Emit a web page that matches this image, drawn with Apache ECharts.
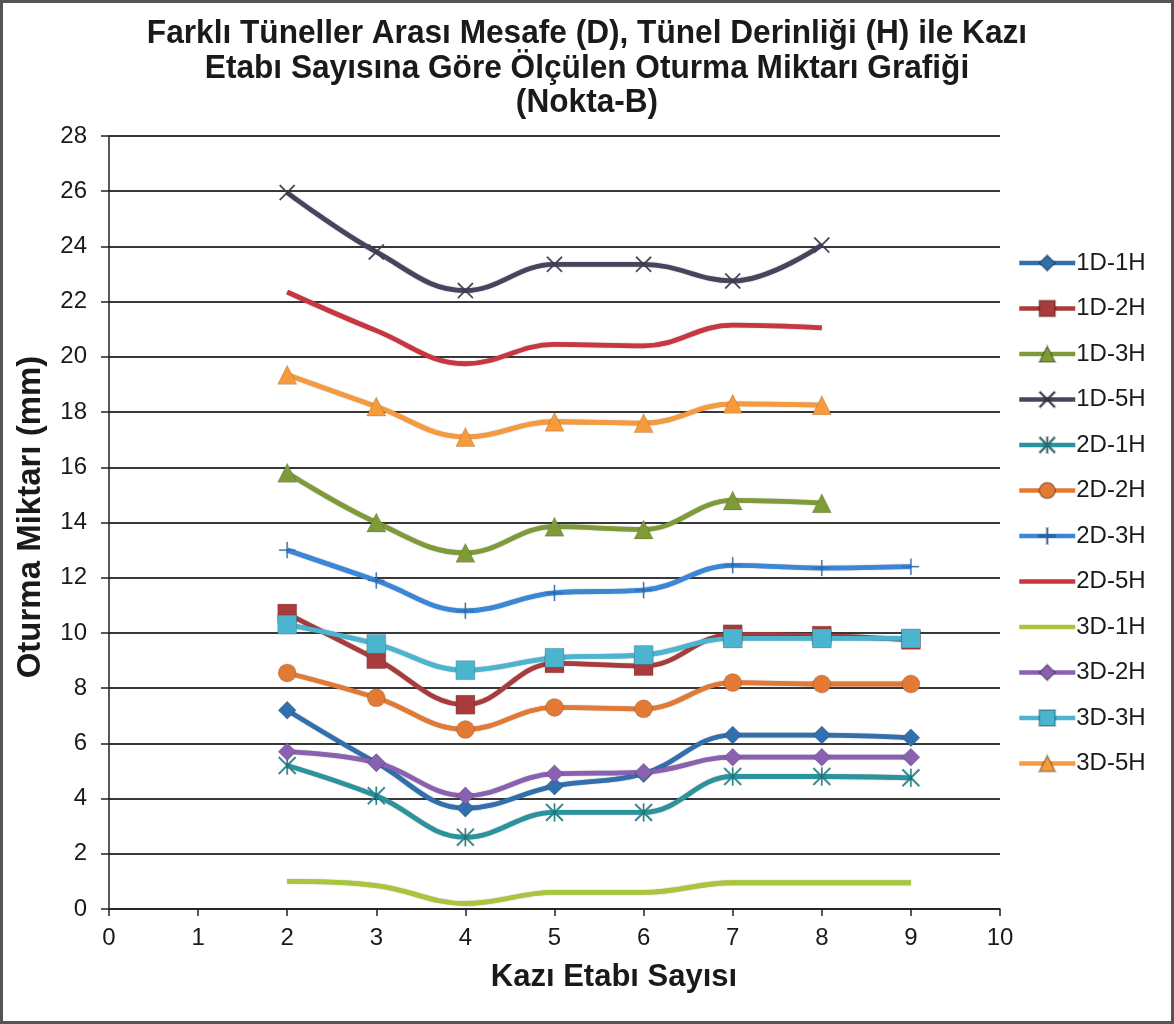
<!DOCTYPE html>
<html>
<head>
<meta charset="utf-8">
<title>Oturma Miktarı Grafiği (Nokta-B)</title>
<script src="https://cdn.jsdelivr.net/npm/echarts@6/dist/echarts.min.js"></script>
<style>
  html, body { margin: 0; padding: 0; background: #ffffff; }
  #chart { width: 1174px; height: 1024px; }
</style>
</head>
<body>
<div id="chart"></div>
<script>
// Excavation stage counts (x values)
const stagesLong = [2, 3, 4, 5, 6, 7, 8, 9];
const stagesShort = [2, 3, 4, 5, 6, 7, 8];

// Measured settlement values (mm)
const d1h1 = [7.2, 5.3, 3.65, 4.45, 4.9, 6.3, 6.3, 6.2];
const d1h2 = [10.7, 9.05, 7.4, 8.9, 8.8, 9.95, 9.9, 9.75];
const d1h3 = [15.8, 14.0, 12.9, 13.85, 13.75, 14.8, 14.7];
const d1h5 = [25.95, 23.8, 22.4, 23.35, 23.35, 22.75, 24.05];
const d2h1 = [5.2, 4.1, 2.6, 3.5, 3.5, 4.8, 4.8, 4.75];
const d2h2 = [8.55, 7.65, 6.5, 7.3, 7.25, 8.2, 8.15, 8.15];
const d2h3 = [13.0, 11.9, 10.8, 11.45, 11.55, 12.45, 12.35, 12.4];
const d2h5 = [22.35, 20.95, 19.75, 20.45, 20.4, 21.15, 21.05];
const d3h1 = [1.0, 0.85, 0.2, 0.6, 0.6, 0.95, 0.95, 0.95];
const d3h2 = [5.7, 5.3, 4.1, 4.9, 4.95, 5.5, 5.5, 5.5];
const d3h3 = [10.3, 9.6, 8.65, 9.1, 9.2, 9.8, 9.8, 9.8];
const d3h5 = [19.35, 18.2, 17.1, 17.65, 17.6, 18.3, 18.25];

const seriesNames = ['1D-1H', '1D-2H', '1D-3H', '1D-5H', '2D-1H', '2D-2H',
                     '2D-3H', '2D-5H', '3D-1H', '3D-2H', '3D-3H', '3D-5H'];
// Series drawn as plain lines, without point markers
const plainLines = ['2D-5H', '3D-1H'];

const titleLines = [
  'Farklı Tüneller Arası Mesafe (D), Tünel Derinliği (H) ile Kazı',
  'Etabı Sayısına Göre Ölçülen Oturma Miktarı Grafiği',
  '(Nokta-B)'
];

// Axis ticks: [min, max, interval]
const xTicks = [0, 10, 1];
const yTicks = [0, 28, 2];

// Stroke-like marker shapes
const crossPath = 'path://M0,1.4 L1.4,0 L20,18.6 L18.6,20 Z M18.6,0 L20,1.4 L1.4,20 L0,18.6 Z';
const starPath = crossPath.replace('path://', 'path://M9.2,0 L10.8,0 L10.8,20 L9.2,20 Z ');
const plusPath = 'path://M9.2,0 L10.8,0 L10.8,20 L9.2,20 Z M0,9.2 L20,9.2 L20,10.8 L0,10.8 Z';

function pairs(xs, ys) {
  return ys.map((y, i) => [xs[i], y]);
}

function line(name, xs, ys, color, symbol, size) {
  return {
    name: name,
    type: 'line',
    data: pairs(xs, ys),
    smooth: 0.4,
    symbol: symbol,
    symbolSize: size,
    showSymbol: symbol !== 'none',
    lineStyle: {
      color: color, width: 4.8,
      shadowColor: 'rgba(0,0,0,0.35)', shadowBlur: 1.5
    },
    itemStyle: { color: color, borderColor: 'rgba(0,0,0,0.25)', borderWidth: 0.6 },
    emphasis: { disabled: true },
    animation: false
  };
}

const chart = echarts.init(document.getElementById('chart'), null, { renderer: 'canvas' });

const labelFont = '"Liberation Sans", Arial, sans-serif';

const titleGraphics = titleLines.map((t, i) => ({
  type: 'text',
  x: 587, y: 34 + i * 34.5,
  scaleX: 0.93,
  style: {
    text: t,
    fontFamily: labelFont, fontWeight: 'bold', fontSize: 34,
    fill: '#1a1a1a', align: 'center', verticalAlign: 'middle'
  },
  silent: true
}));

chart.setOption({
  backgroundColor: '#ffffff',
  animation: false,
  legend: {
    orient: 'vertical',
    left: 1012,
    top: 246,
    itemWidth: 56,
    itemHeight: 20,
    itemGap: 21.5,
    lineStyle: { width: 4.5 },
    data: seriesNames.map(n => plainLines.includes(n)
      ? { name: n, itemStyle: { opacity: 0 } }
      : n),
    textStyle: {
      fontFamily: labelFont,
      fontSize: 24,
      lineHeight: 24,
      color: '#1a1a1a',
      padding: [0, 0, 0, -4]
    }
  },
  grid: { left: 109, right: 174, top: 136, bottom: 115 },
  xAxis: {
    type: 'value',
    min: xTicks[0], max: xTicks[1], interval: xTicks[2],
    axisLine: { show: true, lineStyle: { color: '#222', width: 1.5 } },
    axisTick: { show: true, length: 7, lineStyle: { color: '#222', width: 1.5 } },
    axisLabel: { fontFamily: labelFont, fontSize: 24, color: '#1a1a1a', margin: 17 },
    splitLine: { show: false }
  },
  yAxis: {
    type: 'value',
    min: yTicks[0], max: yTicks[1], interval: yTicks[2],
    axisLine: { show: true, lineStyle: { color: '#222', width: 1.5 } },
    axisTick: { show: true, inside: false, length: 8, lineStyle: { color: '#222', width: 1.5 } },
    axisLabel: { fontFamily: labelFont, fontSize: 24, color: '#1a1a1a', margin: 22 },
    splitLine: { show: true, lineStyle: { color: '#383838', width: 1.8 } }
  },
  graphic: [
    {
      type: 'rect',
      shape: { x: 1.5, y: 1.5, width: 1171, height: 1021 },
      style: { fill: 'none', stroke: '#555555', lineWidth: 3 },
      silent: true
    },
    ...titleGraphics,
    {
      type: 'text',
      x: 31, y: 517,
      rotation: Math.PI / 2,
      style: {
        text: 'Oturma Miktarı (mm)',
        fontFamily: labelFont, fontWeight: 'bold', fontSize: 33,
        fill: '#1a1a1a', align: 'center', verticalAlign: 'middle'
      },
      silent: true
    },
    {
      type: 'text',
      x: 614, y: 977,
      style: {
        text: 'Kazı Etabı Sayısı',
        fontFamily: labelFont, fontWeight: 'bold', fontSize: 31,
        fill: '#1a1a1a', align: 'center', verticalAlign: 'middle'
      },
      silent: true
    }
  ],
  series: [
    line('1D-1H', stagesLong, d1h1, '#3270ad', 'diamond', 18),
    line('1D-2H', stagesLong, d1h2, '#a83c3c', 'rect', 19),
    line('1D-3H', stagesShort, d1h3, '#7f9b38', 'triangle', 19),
    line('1D-5H', stagesShort, d1h5, '#48445e', crossPath, 16),
    line('2D-1H', stagesLong, d2h1, '#2a939c', starPath, 18),
    line('2D-2H', stagesLong, d2h2, '#e27a35', 'circle', 18),
    line('2D-3H', stagesLong, d2h3, '#3a86d8', plusPath, 16),
    line('2D-5H', stagesShort, d2h5, '#c8363f', 'none', 0),
    line('3D-1H', stagesLong, d3h1, '#a9c63a', 'none', 0),
    line('3D-2H', stagesLong, d3h2, '#8a60b0', 'diamond', 18),
    line('3D-3H', stagesLong, d3h3, '#4bb5cf', 'rect', 19),
    line('3D-5H', stagesShort, d3h5, '#f69a3c', 'triangle', 19)
  ]
});
</script>
</body>
</html>
